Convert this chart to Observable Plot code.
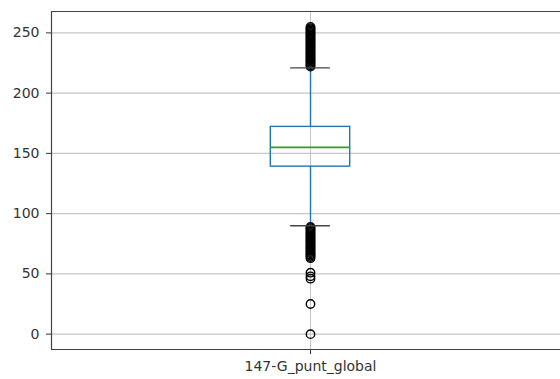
<!DOCTYPE html>
<html>
<head>
<meta charset="utf-8">
<script src="https://cdn.jsdelivr.net/npm/d3@7"></script>
<script src="https://cdn.jsdelivr.net/npm/@observablehq/plot@0.6"></script>
<style>
  html, body { margin: 0; padding: 0; background: #fff; }
</style>
</head>
<body>
<div id="chart"></div>
<script>
// Box plot summary for the single column
const column = "147-G_punt_global";
const position = 1;
const q1 = 139;
const median = 155;
const q3 = 172;
const whiskerLow = 90;
const whiskerHigh = 221;

// Values beyond the whiskers (fliers)
const fliersHigh = [222, 223, 224, 225, 226, 227, 228, 229, 230, 231, 232, 233, 234, 235, 236, 237, 238,
  239, 240, 241, 242, 243, 244, 245, 246, 247, 248, 249, 250, 251, 252, 253, 254, 255];
const fliersLow = [89, 88, 87, 86, 85, 84, 83, 82, 81, 80, 79, 78, 77, 76, 75, 74, 73, 72, 71, 70,
  69, 68, 67, 66, 65, 64, 63, 51, 48, 46, 25, 0];

const yTicks = [0, 50, 100, 150, 200, 250];

const stats = [{column, position, q1, median, q3, whiskerLow, whiskerHigh}];
const fliers = [...fliersHigh, ...fliersLow].map((value) => ({position, value}));

const xDomain = [-0.631, 2.631];
const yDomain = [-12.75, 267.75];
const blue = "#1f77b4";
const green = "#2ca02c";
const spine = "#444";
const grid = "#c6c6c6";

const chart = Plot.plot({
  width: 560,
  height: 379,
  marginLeft: 51,
  marginRight: 0,
  marginTop: 11,
  marginBottom: 30,
  style: {fontFamily: "DejaVu Sans, sans-serif", fontSize: "14px", color: "#333", background: "#fff"},
  x: {type: "linear", domain: xDomain, range: [51, 569], ticks: [position],
      tickFormat: () => column, tickSize: 5, tickPadding: 7, label: null},
  y: {domain: yDomain, ticks: yTicks, tickSize: 5, tickPadding: 7, label: null},
  marks: [
    // grid
    Plot.ruleY(yTicks, {stroke: grid, strokeWidth: 1.1}),
    Plot.ruleX([position], {stroke: grid, strokeWidth: 1.1}),
    // whiskers
    Plot.ruleX(stats, {x: "position", y1: "q3", y2: "whiskerHigh", stroke: blue, strokeWidth: 1.4}),
    Plot.ruleX(stats, {x: "position", y1: "whiskerLow", y2: "q1", stroke: blue, strokeWidth: 1.4}),
    // box
    Plot.rect(stats, {x1: (d) => d.position - 0.25, x2: (d) => d.position + 0.25, y1: "q1", y2: "q3",
      fill: "none", stroke: blue, strokeWidth: 1.4}),
    // median
    Plot.ruleY(stats, {y: "median", x1: (d) => d.position - 0.25, x2: (d) => d.position + 0.25,
      stroke: green, strokeWidth: 1.6}),
    // fliers
    Plot.dot(fliers, {x: "position", y: "value", r: 4.2, fill: "none", stroke: "#000", strokeWidth: 1.4}),
    // caps
    Plot.ruleY(stats, {y: "whiskerHigh", x1: (d) => d.position - 0.125, x2: (d) => d.position + 0.125,
      stroke: spine, strokeWidth: 1.4}),
    Plot.ruleY(stats, {y: "whiskerLow", x1: (d) => d.position - 0.125, x2: (d) => d.position + 0.125,
      stroke: spine, strokeWidth: 1.4}),
    // spines
    Plot.ruleX([xDomain[0]], {stroke: spine, strokeWidth: 1.2}),
    Plot.ruleY([yDomain[0]], {stroke: spine, strokeWidth: 1.2}),
    Plot.ruleY([yDomain[1]], {stroke: spine, strokeWidth: 1.2})
  ]
});

document.getElementById("chart").appendChild(chart);
</script>
</body>
</html>
